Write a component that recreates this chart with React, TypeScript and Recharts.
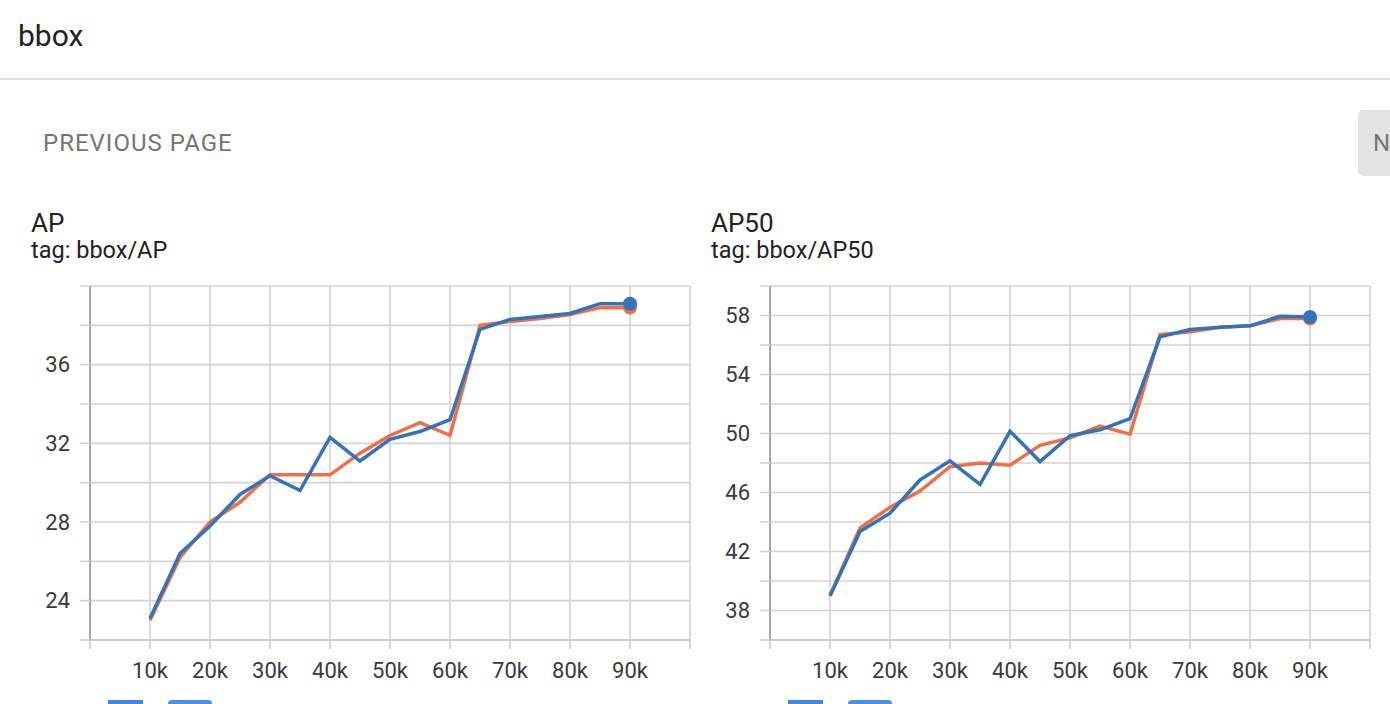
import { CartesianGrid, Line, LineChart, XAxis, YAxis } from 'recharts';

const steps = [10000, 15000, 20000, 25000, 30000, 35000, 40000, 45000, 50000, 55000, 60000, 65000, 70000, 75000, 80000, 85000, 90000];

const apOrange = [23.0, 26.2, 28.0, 29.0, 30.4, 30.4, 30.4, 31.5, 32.4, 33.05, 32.4, 38.0, 38.2, 38.35, 38.55, 38.9, 38.9];
const apBlue = [23.1, 26.4, 27.8, 29.4, 30.35, 29.6, 32.3, 31.1, 32.2, 32.6, 33.2, 37.8, 38.3, 38.45, 38.6, 39.1, 39.1];

const ap50Orange = [39.0, 43.6, 45.0, 46.1, 47.75, 48.0, 47.85, 49.2, 49.7, 50.5, 49.95, 56.7, 56.9, 57.2, 57.3, 57.8, 57.8];
const ap50Blue = [39.0, 43.35, 44.6, 46.85, 48.15, 46.55, 50.15, 48.1, 49.85, 50.25, 51.0, 56.55, 57.05, 57.2, 57.3, 57.95, 57.9];

const xTicks = [0, 10000, 20000, 30000, 40000, 50000, 60000, 70000, 80000, 90000, 100000];

const apYTicks = [22, 24, 26, 28, 30, 32, 34, 36, 38, 40];
const apYLabels = [24, 28, 32, 36];
const ap50YTicks = [36, 38, 40, 42, 44, 46, 48, 50, 52, 54, 56, 58, 60];
const ap50YLabels = [38, 42, 46, 50, 54, 58];

const ORANGE = '#ee7046';
const BLUE = '#3473b7';
const FONT = 'Roboto, "Noto Sans", sans-serif';

type ScalarChartProps = {
  left: number;
  title: string;
  tag: string;
  orange: number[];
  blue: number[];
  yTicks: number[];
  yLabels: number[];
};

function endDot(color: string, last: number) {
  return (props: any) => {
    if (props.index !== last) return <g key={props.index} />;
    return <circle key={props.index} cx={props.cx} cy={props.cy} r={7} fill={color} stroke="none" />;
  };
}

function ScalarChart({ left, title, tag, orange, blue, yTicks, yLabels }: ScalarChartProps) {
  const data = steps.map((step, i) => ({ step, orange: orange[i], blue: blue[i] }));
  const last = steps.length - 1;
  const tickStyle = { fontSize: 22, fill: '#3a3a3a', fontFamily: FONT };

  return (
    <>
      <div style={{ position: 'absolute', left: left + 31, top: 210, fontSize: 26, lineHeight: 1, color: '#212121' }}>
        {title}
      </div>
      <div style={{ position: 'absolute', left: left + 31, top: 239, fontSize: 23.5, lineHeight: 1, color: '#212121' }}>
        {tag}
      </div>
      <div style={{ position: 'absolute', left, top: 270 }}>
        <LineChart width={700} height={434} data={data} margin={{ top: 16, right: 10, bottom: 0, left: 30 }}>
          <CartesianGrid stroke="#d3d3d3" strokeWidth={1.6} />
          <XAxis
            dataKey="step"
            type="number"
            domain={[0, 100000]}
            ticks={xTicks}
            interval={0}
            height={64}
            axisLine={{ stroke: '#cccccc', strokeWidth: 2 }}
            tickLine={{ stroke: '#cccccc', strokeWidth: 1.6 }}
            tickSize={9}
            tickMargin={13}
            tick={tickStyle}
            tickFormatter={(v: number) => (v === 0 || v === 100000 ? '' : `${v / 1000}k`)}
          />
          <YAxis
            type="number"
            domain={[yTicks[0], yTicks[yTicks.length - 1]]}
            ticks={yTicks}
            interval={0}
            width={60}
            axisLine={{ stroke: '#a8a8a8', strokeWidth: 2 }}
            tickLine={{ stroke: '#d3d3d3', strokeWidth: 1.6 }}
            tickSize={10}
            tickMargin={10}
            tick={tickStyle}
            tickFormatter={(v: number) => (yLabels.includes(v) ? String(v) : '')}
          />
          <Line
            type="linear"
            dataKey="orange"
            stroke={ORANGE}
            strokeWidth={3.5}
            dot={endDot(ORANGE, last)}
            activeDot={false}
            isAnimationActive={false}
          />
          <Line
            type="linear"
            dataKey="blue"
            stroke={BLUE}
            strokeWidth={3.5}
            dot={endDot(BLUE, last)}
            activeDot={false}
            isAnimationActive={false}
          />
        </LineChart>
      </div>
      <div style={{ position: 'absolute', left: left + 108, top: 700, width: 35, height: 12, background: '#3f88dc' }} />
      <div style={{ position: 'absolute', left: left + 168, top: 700, width: 44, height: 12, background: '#4a8fe3', borderRadius: 4 }} />
    </>
  );
}

export default function App() {
  return (
    <div
      style={{
        position: 'fixed',
        left: 0,
        top: 0,
        width: 1390,
        height: 704,
        overflow: 'hidden',
        background: '#fff',
        fontFamily: FONT,
      }}
    >
      <div style={{ position: 'absolute', left: 18, top: 21, fontSize: 30, lineHeight: 1, color: '#212121' }}>bbox</div>
      <div style={{ position: 'absolute', left: 0, top: 78, width: 1390, height: 2, background: '#dedede' }} />
      <div
        style={{
          position: 'absolute',
          left: 43,
          top: 131,
          fontSize: 24,
          lineHeight: 1,
          color: '#757575',
          letterSpacing: 1,
        }}
      >
        PREVIOUS PAGE
      </div>
      <div
        style={{
          position: 'absolute',
          left: 1358,
          top: 110,
          width: 60,
          height: 66,
          borderRadius: 5,
          background: '#e3e3e3',
        }}
      >
        <div style={{ position: 'absolute', left: 15, top: 21, fontSize: 24, lineHeight: 1, color: '#757575' }}>N</div>
      </div>
      <ScalarChart
        left={0}
        title="AP"
        tag="tag: bbox/AP"
        orange={apOrange}
        blue={apBlue}
        yTicks={apYTicks}
        yLabels={apYLabels}
      />
      <ScalarChart
        left={680}
        title="AP50"
        tag="tag: bbox/AP50"
        orange={ap50Orange}
        blue={ap50Blue}
        yTicks={ap50YTicks}
        yLabels={ap50YLabels}
      />
    </div>
  );
}
